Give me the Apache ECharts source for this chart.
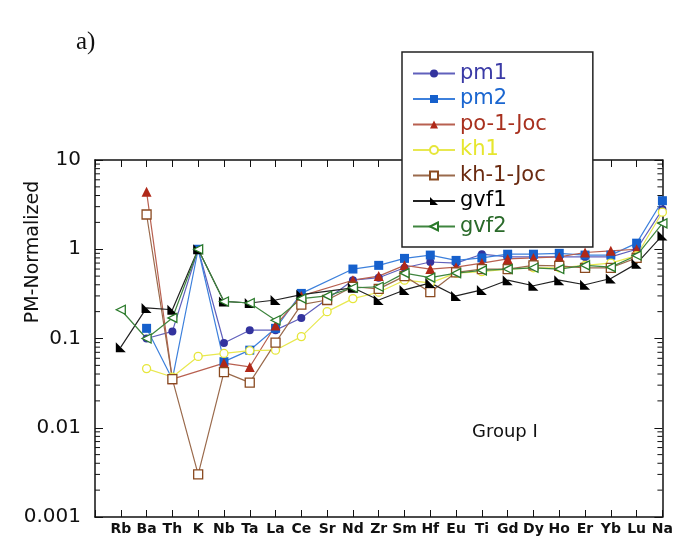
<!DOCTYPE html>
<html>
<head>
<meta charset="utf-8">
<script src="https://cdn.jsdelivr.net/npm/echarts@6/dist/echarts.min.js"></script>
<style>
  html, body { margin: 0; padding: 0; background: #fff; }
  #chart { width: 676px; height: 547px; }
</style>
</head>
<body>
<div id="chart"></div>
<script>
// Elements along the x axis (primitive-mantle normalized spider diagram)
const elements = ['Rb','Ba','Th','K','Nb','Ta','La','Ce','Sr','Nd','Zr','Sm','Hf','Eu','Ti','Gd','Dy','Ho','Er','Yb','Lu','Na'];

// PM-normalized concentrations per sample (null = not analysed)
const pm1     = [null, 0.10, 0.12, 1.0, 0.089, 0.124, 0.124, 0.17, null, 0.45, 0.48, 0.62, 0.72, 0.70, 0.88, 0.82, 0.82, 0.82, 0.82, 0.82, 1.0, 2.8];
const pm2     = [null, 0.13, 0.035, 1.0, 0.055, 0.074, 0.13, 0.32, null, 0.60, 0.66, 0.79, 0.86, 0.75, 0.80, 0.88, 0.88, 0.90, 0.86, 0.86, 1.17, 3.5];
const po1Joc  = [null, 4.4, 0.035, null, 0.053, 0.048, 0.14, 0.30, null, 0.45, 0.50, 0.66, 0.60, 0.63, 0.70, 0.78, 0.80, 0.82, 0.92, 0.96, 1.0, null];
const kh1     = [null, 0.046, 0.037, 0.063, 0.068, 0.073, 0.074, 0.105, 0.20, 0.28, 0.33, 0.45, 0.42, 0.54, 0.56, 0.60, 0.62, 0.62, 0.66, 0.70, 0.85, 2.6];
const kh1Joc  = [null, 2.45, 0.035, 0.003, 0.042, 0.032, 0.09, 0.24, 0.27, 0.38, 0.36, 0.50, 0.33, 0.55, 0.60, 0.60, 0.66, 0.65, 0.62, 0.62, 0.80, null];
const gvf1    = [0.08, 0.22, 0.21, 1.0, 0.26, 0.25, 0.27, 0.31, null, 0.37, 0.27, 0.35, 0.42, 0.30, 0.35, 0.45, 0.39, 0.45, 0.40, 0.47, 0.69, 1.43];
const gvf2    = [0.21, 0.10, 0.17, 1.0, 0.26, 0.25, 0.16, 0.28, 0.30, 0.37, 0.38, 0.54, 0.48, 0.54, 0.58, 0.60, 0.62, 0.60, 0.66, 0.63, 0.85, 1.95];

// Log-axis decade labels
const yTickLabels = ['0.001', '0.01', '0.1', '1', '10'];

const FONT = '"DejaVu Sans", "Liberation Sans", sans-serif';

const sampleStyles = [
  { name: 'pm1',      values: pm1,    symbol: 'circle',      size: 8,  fill: '#33339e', border: '#33339e', line: '#6060bc', text: '#3a3aa6' },
  { name: 'pm2',      values: pm2,    symbol: 'rect',        size: 9,  fill: '#1660cc', border: '#1660cc', line: '#3d80dc', text: '#1a66d0' },
  { name: 'po-1-Joc', values: po1Joc, symbol: 'triangle',    size: 10, fill: '#b02818', border: '#b02818', line: '#b86050', text: '#a8301e' },
  { name: 'kh1',      values: kh1,    symbol: 'circle',      size: 8,  fill: '#ffffff', border: '#e6e63a', line: '#e8e850', text: '#e6e62e' },
  { name: 'kh-1-Joc', values: kh1Joc, symbol: 'rect',        size: 9,  fill: '#ffffff', border: '#8a4a20', line: '#9a6a4c', text: '#6a2a10' },
  { name: 'gvf1',     values: gvf1,   symbol: 'path://M0,0 L0,10 L10,10 Z', size: 10, fill: '#000000', border: '#000000', line: '#222222', text: '#000000' },
  { name: 'gvf2',     values: gvf2,   symbol: 'path://M10,0 L0,5 L10,10 Z', size: 9,  fill: '#ffffff', border: '#2a7a2a', line: '#3f853f', text: '#2a6a2a' }
];

const series = sampleStyles.map(s => ({
  name: s.name,
  type: 'line',
  data: s.values.map((v, i) => [i, v]),
  connectNulls: true,
  symbol: s.symbol,
  symbolSize: s.size,
  showSymbol: true,
  lineStyle: { color: s.line, width: 1.2 },
  itemStyle: { color: s.fill, borderColor: s.border, borderWidth: s.fill === '#ffffff' ? 1.3 : 0 },
  emphasis: { disabled: true },
  z: 3
}));

// Minor log ticks (2..9 within each decade) on both vertical edges of the frame
const minorTickValues = [];
for (let e = -3; e < 1; e++) {
  for (let m = 2; m <= 9; m++) minorTickValues.push([0, Number((m * Math.pow(10, e)).toPrecision(3))]);
}
series.push({
  name: 'minorTicks',
  type: 'custom',
  silent: true,
  data: minorTickValues,
  renderItem: function (params, api) {
    const cs = params.coordSys;
    const y = api.coord([0, api.value(1)])[1];
    const len = 5;
    return {
      type: 'group',
      children: [
        { type: 'line', shape: { x1: cs.x, y1: y, x2: cs.x + len, y2: y }, style: { stroke: '#111', lineWidth: 1 } },
        { type: 'line', shape: { x1: cs.x + cs.width - len, y1: y, x2: cs.x + cs.width, y2: y }, style: { stroke: '#111', lineWidth: 1 } }
      ]
    };
  },
  z: 2
});

const chart = echarts.init(document.getElementById('chart'), null, { renderer: 'canvas' });

const frameLine = { show: true, onZero: false, lineStyle: { color: '#111', width: 1.5 } };

chart.setOption({
  backgroundColor: '#ffffff',
  animation: false,
  grid: { left: 95, top: 160, right: 13, bottom: 30, containLabel: false },
  legend: {
    orient: 'vertical',
    left: 402,
    top: 52,
    padding: [11, 46, 10, 10],
    borderColor: '#222',
    borderWidth: 1.5,
    backgroundColor: '#ffffff',
    itemGap: 4.5,
    itemWidth: 42,
    itemHeight: 10,
    selectedMode: false,
    textStyle: { fontSize: 21, fontFamily: FONT, lineHeight: 18 },
    data: sampleStyles.map(s => ({ name: s.name, textStyle: { color: s.text } })),
    z: 10
  },
  xAxis: [
    {
      type: 'value',
      min: -1,
      max: 21,
      interval: 1,
      axisLine: frameLine,
      axisTick: { show: true, inside: true, length: 7, lineStyle: { color: '#111', width: 1 } },
      splitLine: { show: false },
      axisLabel: {
        color: '#111',
        fontSize: 14,
        fontWeight: 'bold',
        fontFamily: FONT,
        margin: 5,
        formatter: v => (v >= 0 && v < elements.length ? elements[v] : '')
      }
    },
    {
      type: 'value',
      position: 'top',
      min: -1,
      max: 21,
      interval: 1,
      axisLine: frameLine,
      axisTick: { show: true, inside: true, length: 7, lineStyle: { color: '#111', width: 1 } },
      splitLine: { show: false },
      axisLabel: { show: false }
    }
  ],
  yAxis: [
    {
      type: 'log',
      logBase: 10,
      min: 0.001,
      max: 10,
      axisLine: frameLine,
      axisTick: { show: true, inside: true, length: 8, lineStyle: { color: '#111', width: 1 } },
      splitLine: { show: false },
      axisLabel: {
        color: '#111',
        fontSize: 20,
        fontFamily: FONT,
        margin: 14,
        formatter: v => {
          const k = Math.round(Math.log10(v)) + 3;
          return yTickLabels[k] !== undefined ? yTickLabels[k] : '';
        }
      }
    },
    {
      type: 'log',
      logBase: 10,
      min: 0.001,
      max: 10,
      position: 'right',
      axisLine: frameLine,
      axisTick: { show: true, inside: true, length: 8, lineStyle: { color: '#111', width: 1 } },
      splitLine: { show: false },
      axisLabel: { show: false }
    }
  ],
  graphic: [
    {
      type: 'text',
      x: 33,
      y: 252,
      rotation: Math.PI / 2,
      style: { text: 'PM-Normalized', font: '19px ' + FONT, fill: '#111', align: 'center', verticalAlign: 'middle' }
    },
    {
      type: 'text',
      x: 76,
      y: 42,
      style: { text: 'a)', font: '25px "Liberation Serif", "DejaVu Serif", serif', fill: '#111', verticalAlign: 'middle' }
    },
    {
      type: 'text',
      x: 472,
      y: 432,
      style: { text: 'Group I', font: '18px ' + FONT, fill: '#111', verticalAlign: 'middle' }
    }
  ],
  series: series
});
</script>
</body>
</html>
